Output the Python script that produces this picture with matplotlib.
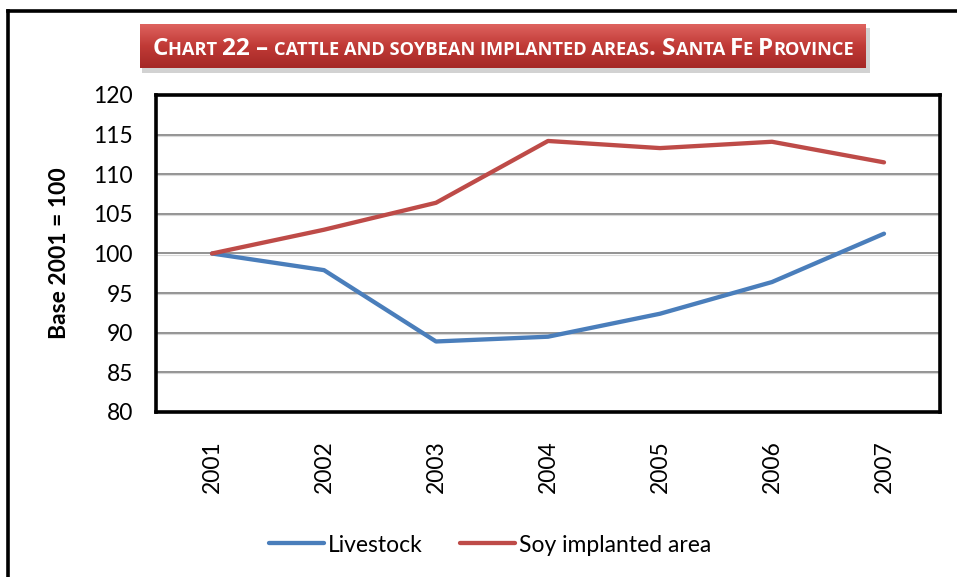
import numpy as np
import matplotlib
matplotlib.use("Agg")
import matplotlib.pyplot as plt
from matplotlib.lines import Line2D
from matplotlib.patches import Rectangle

years = ["2001", "2002", "2003", "2004", "2005", "2006", "2007"]
livestock = [100.0, 97.9, 88.9, 89.5, 92.4, 96.4, 102.5]
soy = [100.0, 103.0, 106.4, 114.2, 113.3, 114.1, 111.5]
series_names = ["Livestock", "Soy implanted area"]
yticks = [80, 85, 90, 95, 100, 105, 110, 115, 120]
title_parts = [("C", 1), ("HART ", 0), ("22 – ", 1), ("CATTLE AND SOYBEAN IMPLANTED AREAS", 0),
               (". S", 1), ("ANTA ", 0), ("F", 1), ("E ", 0), ("P", 1), ("ROVINCE", 0)]

FONT = "Lato"
plt.rcParams['font.family'] = [FONT, 'DejaVu Sans']

W, H = 957, 577
fig = plt.figure(figsize=(W / 100, H / 100), dpi=100)

def fx(px):
    return px / W

def fy(py):
    return 1 - py / H

# outer frame (left and top visible)
fig.add_artist(Line2D([fx(8), fx(8)], [0, fy(11)], color="black", lw=2.6, transform=fig.transFigure, solid_capstyle="projecting"))
fig.add_artist(Line2D([fx(8), 1.0], [fy(11), fy(11)], color="black", lw=2.6, transform=fig.transFigure, solid_capstyle="projecting"))

# plot area
L, T, R, B = 156, 95, 940, 412
ax = fig.add_axes([fx(L), fy(B), fx(R) - fx(L), fy(T) - fy(B)])
x = np.arange(len(years))
blue = "#4A7EBB"
red = "#BE4B48"
ax.plot(x, livestock, color=blue, lw=3.1, solid_capstyle="round", solid_joinstyle="round", label=series_names[0], zorder=3)
ax.plot(x, soy, color=red, lw=3.1, solid_capstyle="round", solid_joinstyle="round", label=series_names[1], zorder=3)
ax.set_xlim(-0.5, len(years) - 0.5)
ax.set_ylim(80, 120)
ax.set_yticks(yticks)
ax.set_xticks(x)
ax.set_xticklabels(years, rotation=90, fontsize=16.5)
ax.tick_params(axis="y", labelsize=16.5, length=0, pad=16.5)
ax.tick_params(axis="x", length=0, pad=20)
for v in yticks[1:-1]:
    ax.axhline(v, color="#8a8a8a", lw=1.3, zorder=1)
    ax.axhline(v - 0.13, color="#d8d8d8", lw=0.8, zorder=1)
for s in ax.spines.values():
    s.set_linewidth(2.6)
    s.set_color("black")
ax.set_ylabel("Base 2001 = 100", fontsize=16.5, fontweight="bold")
ax.yaxis.set_label_coords((70 - L) / (R - L), 0.5)

# legend
handles = [Line2D([], [], color=blue, lw=3.1, solid_capstyle="round"),
           Line2D([], [], color=red, lw=3.1, solid_capstyle="round")]
fig.legend(handles, series_names, loc="center", bbox_to_anchor=(fx(490), fy(545)), ncol=2,
           frameon=False, fontsize=16.5, handlelength=2.4, handletextpad=0.2, columnspacing=1.6)

# title banner
bx0, by0, bx1, by1 = 140, 24, 866, 68
fig.add_artist(Rectangle((fx(bx0 + 2), fy(by1 + 5)), fx(bx1 - bx0 + 2), fy(by0 + 4) - fy(by1 + 5),
                         transform=fig.transFigure, color="#b5b5b5", alpha=0.6, zorder=0, lw=0))
bax = fig.add_axes([fx(bx0), fy(by1), fx(bx1) - fx(bx0), fy(by0) - fy(by1)])
top = np.array([222, 98, 94]) / 255
mid = np.array([192, 58, 54]) / 255
bot = np.array([165, 40, 38]) / 255
n = 50
t = np.linspace(0, 1, n)[:, None]
grad = np.where(t < 0.5, top + (mid - top) * (t / 0.5), mid + (bot - mid) * ((t - 0.5) / 0.5))
bax.imshow(grad[:, None, :], aspect="auto", extent=[0, 1, 0, 1], origin="upper")
bax.set_xlim(0, 1)
bax.set_ylim(0, 1)
bax.axis("off")

# small-caps title drawn piecewise
big, small = 17.0, 12.8
renderer = fig.canvas.get_renderer()
def draw_title(scale):
    texts = []
    for s, isbig in title_parts:
        tt = fig.text(0, fy(54), s, fontsize=(big if isbig else small) * scale, color="white",
                      fontweight="bold", va="baseline", ha="left", family=["Open Sans", "DejaVu Sans"])
        texts.append(tt)
    widths = [tt.get_window_extent(renderer).width for tt in texts]
    return texts, widths

texts, widths = draw_title(1.0)
scale = 704 / sum(widths)
for tt in texts:
    tt.remove()
texts, widths = draw_title(scale)
total = sum(widths)
xp = (bx0 + bx1) / 2 - total / 2
for tt, w in zip(texts, widths):
    tt.set_position((fx(xp), fy(55)))
    xp += w

fig.savefig("out.png", dpi=100)
